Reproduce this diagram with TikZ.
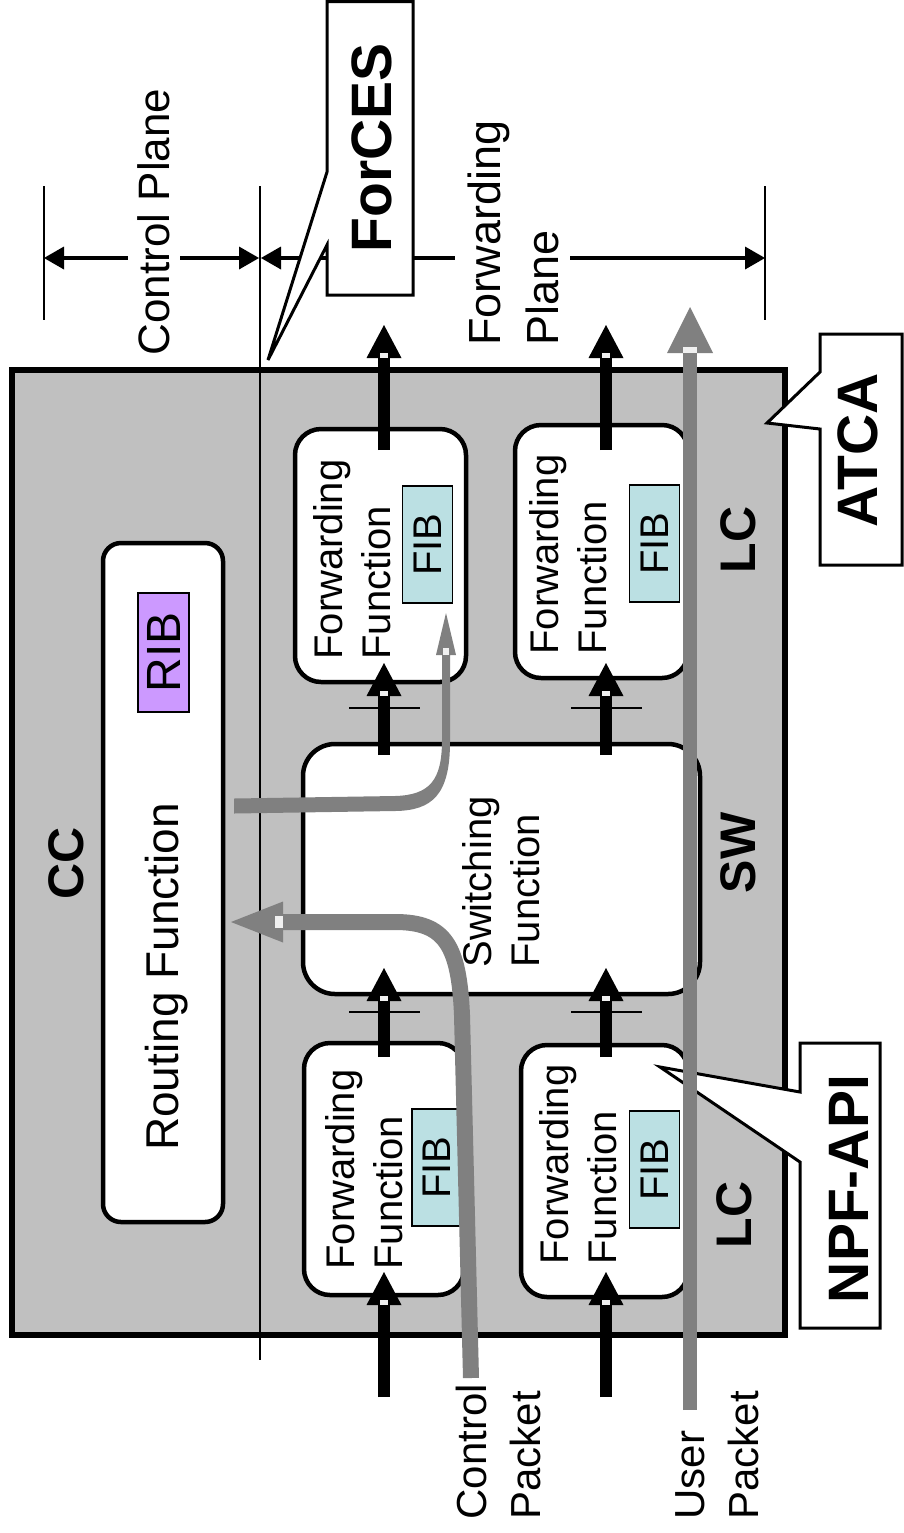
\documentclass[tikz,border=0pt]{standalone}
\usepackage{fontspec}
\setmainfont{Liberation Sans}
\usetikzlibrary{arrows.meta,fit}
\definecolor{boxgray}{RGB}{192,192,192}
\definecolor{arrgray}{RGB}{128,128,128}
\definecolor{fibcol}{RGB}{187,224,227}
\definecolor{ribcol}{RGB}{204,153,255}
\begin{document}
\begin{tikzpicture}[x=0.5pt,y=-0.5pt,
  every node/.style={inner sep=0pt},
  rbox/.style={draw, line width=2.25pt, fill=white, rounded corners=13pt},
  tagbox/.style={draw, line width=0.8pt, rotate=90, minimum width=58.5pt, minimum height=25pt},
  lbl/.style={rotate=90, align=left, font=\fontsize{20pt}{24pt}\selectfont},
  blbl/.style={rotate=90, font=\bfseries\fontsize{25pt}{30pt}\selectfont},
  bigblbl/.style={rotate=90, font=\bfseries\fontsize{28.5pt}{32pt}\selectfont},
  callout/.style={draw, fill=white, line width=1.5pt, line join=miter},
  thinline/.style={line width=1pt},
  tick/.style={line width=0.8pt},
  dim/.style={line width=2pt, {Triangle[length=10pt,width=11.5pt,line width=0pt]}-{Triangle[length=10pt,width=11.5pt,line width=0pt]}},
  blk/.style={line width=6pt, -{Triangle[length=16.5pt,width=17.5pt,line width=0pt]}},
  usr/.style={line width=7pt, draw=arrgray, -{Triangle[length=23pt,width=23pt,line width=0pt]}},
  ctl/.style={line width=8pt, draw=arrgray, -{Triangle[length=26pt,width=20.5pt,line width=0pt]}},
  notch/.style={fill=gray!12}
]
\useasboundingbox (0,0) rectangle (904,1533);

% ---------- dimension lines ----------
\coordinate (d1) at (44,258);
\coordinate (d2) at (259,258);
\coordinate (d3) at (261,258);
\coordinate (d4) at (765,258);
\draw[thinline] (44,186) -- (44,320);
\draw[thinline] (765,186) -- (765,320);
\draw[dim] (d1) -- (d2);
\draw[dim] (d3) -- (d4);
\node[rotate=90, fill=white, inner sep=5pt, font=\fontsize{22pt}{26pt}\selectfont] (cplane) at (154,222) {Control Plane};
\node[rotate=90, align=left, fill=white, inner sep=6pt, anchor=north west, font=\fontsize{22.5pt}{29pt}\selectfont] (fplane) at (455,358) {Forwarding\\Plane};

% ---------- ATCA chassis ----------
\node[fit={(12,370)(785,1335)}, draw, line width=3pt, fill=boxgray] (atca) {};
\draw[thinline] (260,186) -- (260,1360);

% ---------- control card ----------
\node[rbox, rounded corners=9pt, fit={(103,543)(223,1222)}] (rf) {};
\node[lbl, font=\fontsize{23pt}{27pt}\selectfont] (rft) at (167,977) {Routing Function};
\node[tagbox, fill=ribcol, minimum width=59.5pt, minimum height=25.5pt, font=\fontsize{24pt}{28pt}\selectfont] (rib) at (163.5,652.5) {RIB};
\node[blbl] (cc) at (66,863) {CC};

% ---------- line cards and switch ----------
\node[rbox, fit={(295,429)(466,682)}] (ff1) {};
\node[rbox, fit={(515,425)(688,678)}] (ff2) {};
\node[rbox, fit={(304,1043)(464,1295)}] (ff3) {};
\node[rbox, fit={(521,1045)(688,1297)}] (ff4) {};
\node[rbox, rounded corners=16pt, fit={(303,744)(700,994)}] (sw) {};

\node[lbl, anchor=north west] (ff1t) at (313,660) {Forwarding\\Function};
\node[lbl, anchor=north west] (ff2t) at (529,655) {Forwarding\\Function};
\node[lbl, anchor=north west] (ff3t) at (325,1270) {Forwarding\\Function};
\node[lbl, anchor=north west] (ff4t) at (539,1265) {Forwarding\\Function};
\node[lbl, anchor=north west] (swt) at (462,968) {Switching\\Function};

\node[tagbox, fill=fibcol, font=\fontsize{20pt}{22pt}\selectfont] (fib1) at (427.5,544.5) {FIB};
\node[tagbox, fill=fibcol, font=\fontsize{20pt}{22pt}\selectfont] (fib2) at (654.5,543.5) {FIB};
\node[tagbox, fill=fibcol, font=\fontsize{20pt}{22pt}\selectfont] (fib3) at (437,1167.5) {FIB};
\node[tagbox, fill=fibcol, font=\fontsize{20pt}{22pt}\selectfont] (fib4) at (654.5,1169.5) {FIB};

\node[blbl] (swl) at (738,853) {SW};
\node[blbl] (lc1) at (738,540) {LC};
\node[blbl] (lc2) at (734,1215) {LC};

% ---------- black packet arrows ----------
\foreach \c/\n in {384/A,606/B}{
  \coordinate (in\n s) at (\c,1397);  \coordinate (in\n e) at (\c,1272);
  \coordinate (mid\n s) at (\c,1057); \coordinate (mid\n e) at (\c,968);
  \coordinate (up\n s) at (\c,755);   \coordinate (up\n e) at (\c,663);
  \coordinate (out\n s) at (\c,450);  \coordinate (out\n e) at (\c,325);
  \draw[blk] (in\n s) -- (in\n e);
  \draw[blk] (mid\n s) -- (mid\n e);
  \draw[blk] (up\n s) -- (up\n e);
  \draw[blk] (out\n s) -- (out\n e);
  \draw[tick] (\c-35,1012) -- (\c+36,1012);
  \draw[tick] (\c-35,708) -- (\c+36,708);
  \fill[notch] (\c-4,1300) rectangle (\c+4,1305);
  \fill[notch] (\c-4,996) rectangle (\c+4,1001);
  \fill[notch] (\c-4,691) rectangle (\c+4,696);
  \fill[notch] (\c-4,353) rectangle (\c+4,358);
}

% ---------- control packet path (grey) ----------
\coordinate (cps) at (471,1378);
\coordinate (cpe) at (231,922);
\draw[ctl] (cps) -- (462,1015) .. controls (459,945) and (445,922) .. (395,922) -- (cpe);
\fill[notch] (275,916) rectangle (283,928);

% ---------- routing function to FIB (tapered grey) ----------
\fill[arrgray] (234,798.5) -- (395,796) .. controls (430,795) and (442,780) .. (442,740)
  -- (442,655) -- (436,655) -- (446,613) -- (456,655) -- (450,655)
  -- (450,742) .. controls (450,795) and (432,810.5) .. (395,811) -- (234,813.5) -- cycle;
\fill[notch] (443,648) rectangle (449,655);

% ---------- callouts ----------
\draw[callout] (327,1.5) -- (413,1.5) -- (413,295) -- (327,295) -- (327,245) -- (268,360) -- (327,172) -- cycle;
\node[bigblbl] (forces) at (372,148) {ForCES};
\draw[callout] (820,334) -- (902,334) -- (902,565) -- (820,565) -- (820,429) -- (767,423) -- (820,372) -- cycle;
\node[bigblbl] (atcal) at (858,450) {ATCA};
\draw[callout] (800,1043) -- (880,1043) -- (880,1328) -- (800,1328) -- (800,1162) -- (660,1067) -- (800,1092) -- cycle;
\node[bigblbl] (npf) at (849,1189) {NPF-API};

% ---------- user packet path (grey) ----------
\coordinate (ups) at (690,1410);
\coordinate (upe) at (690,307);
\draw[usr] (ups) -- (upe);
\fill[notch] (683,347) rectangle (697,353);

% ---------- packet labels ----------
\node[lbl, anchor=north west, font=\fontsize{21pt}{27pt}\selectfont] (cpl) at (456,1520) {Control\\Packet};
\node[lbl, anchor=north west, font=\fontsize{21pt}{27pt}\selectfont] (upl) at (675,1520) {User\\Packet};
\end{tikzpicture}
\end{document}
